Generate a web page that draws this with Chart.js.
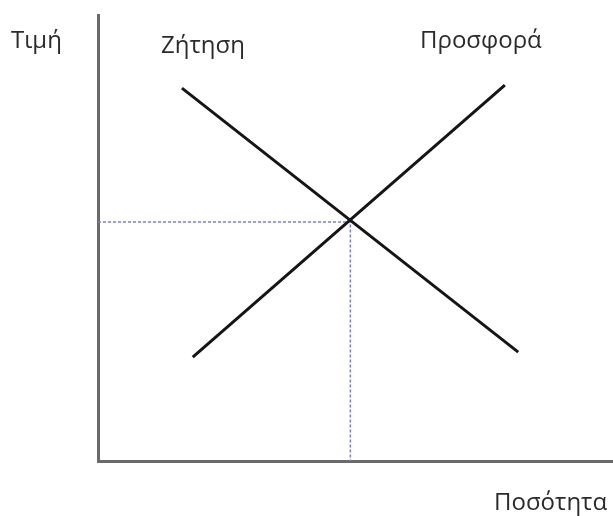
<!DOCTYPE html>
<html>
<head>
<meta charset="utf-8">
<script src="https://cdn.jsdelivr.net/npm/chart.js@4/dist/chart.umd.min.js"></script>
<style>
  body { margin: 0; background: #fff; }
  canvas { display: block; }
</style>
</head>
<body>
<canvas id="market" width="613" height="516"></canvas>
<script>
// demand and supply end points, quantity (x) / price (y), 0-100 units
const demandX = [16.3, 81.6];
const demandY = [83.6, 24.4];
const supplyX = [18.4, 79.0];
const supplyY = [23.3, 84.3];
// equilibrium
const eqX = 49.0;
const eqY = 53.6;

const labels = [
  { text: 'Τιμή', x: 11, y: 48 },
  { text: 'Ζήτηση', x: 161, y: 53 },
  { text: 'Προσφορά', x: 420, y: 48 },
  { text: 'Ποσότητα', x: 494, y: 510 },
];

const pts = (xs, ys) => xs.map((x, i) => ({ x: x, y: ys[i] }));

const textPlugin = {
  id: 'textLabels',
  afterDraw: (chart) => {
    const ctx = chart.ctx;
    ctx.save();
    ctx.font = '24px "Open Sans", "Noto Sans", sans-serif';
    ctx.fillStyle = '#2b2b2b';
    ctx.textBaseline = 'alphabetic';
    labels.forEach((l) => ctx.fillText(l.text, l.x, l.y));
    ctx.restore();
  },
};

const context = document.querySelector('#market');
// eslint-disable-next-line
const marketChart = new Chart(context, {
  type: 'scatter',
  data: {
    datasets: [
      {
        label: 'Ζήτηση',
        data: pts(demandX, demandY),
        showLine: true,
        borderColor: '#151515',
        borderWidth: 3,
        pointRadius: 0,
      },
      {
        label: 'Προσφορά',
        data: pts(supplyX, supplyY),
        showLine: true,
        borderColor: '#151515',
        borderWidth: 3,
        pointRadius: 0,
      },
      {
        label: 'eq',
        data: [{ x: 0, y: eqY }, { x: eqX, y: eqY }, { x: eqX, y: 0 }],
        showLine: true,
        borderColor: '#7f7fcc',
        borderWidth: 1.5,
        borderDash: [3, 2],
        pointRadius: 0,
      },
    ],
  },
  options: {
    responsive: false,
    animation: false,
    layout: { padding: { left: 98, top: 15, right: 0, bottom: 55 } },
    plugins: { legend: { display: false }, tooltip: { enabled: false } },
    scales: {
      x: {
        min: 0,
        max: 100,
        grid: { display: false },
        ticks: { display: false },
        border: { color: '#6a6a6a', width: 3 },
        afterFit: (s) => { s.height = 0; },
      },
      y: {
        min: 0,
        max: 100,
        grid: { display: false },
        ticks: { display: false },
        border: { color: '#6a6a6a', width: 3 },
        afterFit: (s) => { s.width = 0; },
      },
    },
  },
  plugins: [textPlugin],
});
</script>
</body>
</html>
